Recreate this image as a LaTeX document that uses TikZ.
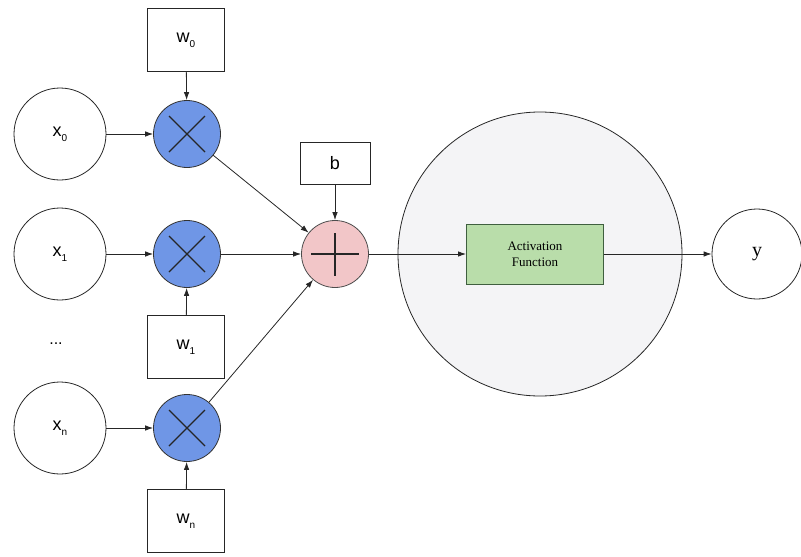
\documentclass[tikz,border=0pt]{standalone}
\usepackage{fontspec}
\setmainfont{Liberation Sans}
\newfontfamily\serifface{Liberation Serif}
\usetikzlibrary{arrows.meta,calc}
\definecolor{multblue}{HTML}{6F96E6}
\definecolor{sumpink}{HTML}{F2C6C8}
\definecolor{actgreen}{HTML}{B9DDAA}
\definecolor{actedge}{HTML}{3F5F3F}
\definecolor{haze}{HTML}{F4F4F6}
\newcommand{\lbl}[2]{#1\raisebox{-5pt}{\fontsize{10}{10}\selectfont #2}}
\tikzset{
  inputnode/.style={circle, draw=black!85, line width=0.8pt, minimum size=92pt, inner sep=0pt, font=\fontsize{18}{18}\selectfont},
  multnode/.style={circle, draw=black!80, line width=0.8pt, fill=multblue, minimum size=67pt, inner sep=0pt},
  sumnode/.style={circle, draw=black!70, line width=0.8pt, fill=sumpink, minimum size=67pt, inner sep=0pt},
  weightbox/.style={rectangle, draw=black!85, line width=0.8pt, fill=white, minimum width=77pt, minimum height=63pt, inner sep=0pt, font=\fontsize{18}{18}\selectfont},
  conn/.style={line width=0.8pt, draw=black!85, -{Latex[length=8pt,width=5.5pt]}},
}
\begin{document}
\begin{tikzpicture}[x=1pt, y=-1pt]
\useasboundingbox (0,0) rectangle (801,557);

% activation enclosure
\node[circle, draw=black!85, line width=0.8pt, fill=haze, minimum size=284pt, inner sep=0pt] (cell) at (540,254) {};

% inputs
\node[inputnode] (x0) at (60,134) {\lbl{x}{0}};
\node[inputnode] (x1) at (60,254) {\lbl{x}{1}};
\node[inputnode] (xn) at (60,428) {\lbl{x}{n}};
\node[font=\fontsize{16}{16}\selectfont] (dots) at (56,344) {...};

% weights
\node[weightbox] (w0) at (186,40) {\lbl{w}{0}};
\node[weightbox] (w1) at (186,347) {\lbl{w}{1}};
\node[weightbox] (wn) at (186,521) {\lbl{w}{n}};

% multipliers
\foreach \n/\yy in {m0/134, m1/254, mn/428} {
  \node[multnode] (\n) at (187,\yy) {};
  \draw[line width=1.1pt, black!85] ($(\n)+(-18,-18)$) -- ($(\n)+(18,18)$)
        ($(\n)+(-18,18)$) -- ($(\n)+(18,-18)$);
}

% summation and bias
\node[sumnode] (sum) at (335,254) {};
\draw[line width=1.1pt, black!85] (311,254) -- (359,254) (335,233) -- (335,276);
\node[rectangle, draw=black!85, line width=0.8pt, fill=white, minimum width=70pt, minimum height=42pt, font=\fontsize{18}{18}\selectfont] (b) at (335,163) {b};

% activation and output
\node[rectangle, draw=actedge, line width=0.9pt, fill=actgreen, minimum width=137pt, minimum height=60pt, align=center, font=\serifface\fontsize{13}{16}\selectfont] (act) at (535,254) {Activation\\Function};
\node[inputnode, minimum size=90pt, font=\serifface\fontsize{20}{20}\selectfont] (y) at (757,254) {y};

% connectors
\draw[conn] (x0) -- (m0);
\draw[conn] (x1) -- (m1);
\draw[conn] (xn) -- (mn);
\draw[conn] (w0) -- (m0);
\draw[conn] (w1) -- (m1);
\draw[conn] (wn) -- (mn);
\draw[conn] (m0) -- (sum);
\draw[conn] (m1) -- (sum);
\draw[conn] (mn) -- (sum);
\draw[conn] (b) -- (sum);
\draw[conn] (sum) -- (act);
\draw[conn] (act) -- (y);
\end{tikzpicture}
\end{document}
